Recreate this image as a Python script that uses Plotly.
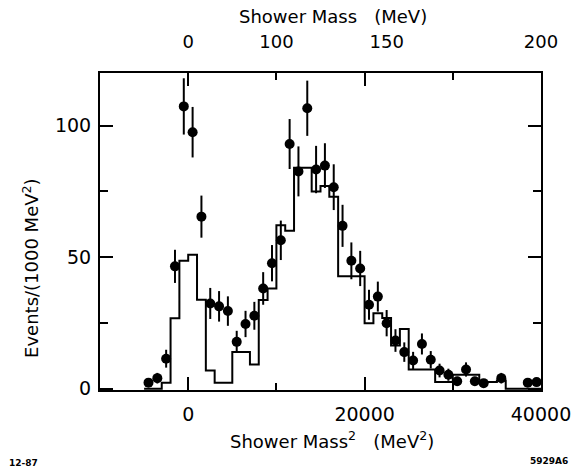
import plotly.graph_objects as go

# Histogram (Monte Carlo) : bin edges and contents
hist_edges = list(range(-5000, 41000, 1000))
hist_vals = [0, 0, 2.3, 26.8, 48.6, 50.9, 33.8, 6.9, 2.3, 2.3,
             13.9, 13.9, 9.2, 33.7, 38.1, 62.1, 60, 84, 84, 75,
             77, 73, 42.7, 42.7, 42.7, 24.9, 28.7, 26.9, 16.4, 22.7,
             7.3, 7.3, 7.3, 2.5, 2.5, 5.3, 5.3, 5.3, 2.5, 2.5,
             3.1, 0, 0, 0, 0]

# Data points
pt_x = [-4500, -3500, -2500, -1500, -500, 500, 1500, 2500, 3500, 4500,
        5500, 6500, 7500, 8500, 9500, 10500, 11500, 12500, 13500, 14500,
        15500, 16500, 17500, 18500, 19500, 20500, 21500, 22500, 23500, 24500,
        25500, 26500, 27500, 28500, 29500, 30500, 31500, 32500, 33500, 35500,
        38500, 39500]
pt_y = [2.3, 4.0, 11.4, 46.5, 107.3, 97.5, 65.4, 32.4, 31.3, 29.5,
        17.8, 24.6, 27.7, 38.1, 47.7, 56.4, 93.0, 82.6, 106.6, 83.3,
        84.8, 76.6, 61.9, 48.6, 45.7, 31.9, 35.0, 24.9, 18.3, 13.9,
        10.7, 17.0, 11.0, 6.9, 5.3, 2.8, 7.3, 2.8, 2.1, 4.0,
        2.3, 2.5]
pt_err = [1.5, 2.0, 3.4, 6.3, 10.7, 9.6, 8.0, 5.9, 5.8, 5.6,
          4.2, 5.0, 5.3, 6.2, 6.9, 7.5, 9.5, 9.5, 10.5, 9.0,
          8.5, 8.7, 8.0, 7.0, 6.7, 5.7, 5.7, 5.0, 4.3, 3.7,
          3.3, 4.0, 3.3, 2.6, 2.3, 1.7, 2.7, 1.7, 1.5, 2.0,
          1.5, 1.6]

top_tick_vals = [0, 10000, 22500, 40000]
top_tick_text = ["0", "100", "150", "200"]

FONT = "DejaVu Sans"

fig = go.Figure()
fig.add_trace(go.Scatter(
    x=hist_edges, y=hist_vals + [hist_vals[-1]],
    mode="lines", line=dict(shape="hv", color="black", width=2),
    showlegend=False, hoverinfo="skip"))
fig.add_trace(go.Scatter(
    x=pt_x, y=pt_y, mode="markers",
    marker=dict(size=10, color="black"),
    error_y=dict(type="data", array=pt_err, color="black", thickness=2, width=0),
    showlegend=False))
# invisible trace to host the top axis
fig.add_trace(go.Scatter(x=[0], y=[0], xaxis="x2", mode="markers",
                         marker=dict(opacity=0), showlegend=False, hoverinfo="skip"))

L, R, T, B = 100, 547, 73, 390
W, H = 583, 470

fig.update_layout(
    width=W, height=H,
    margin=dict(l=L, r=W - R, t=T, b=H - B),
    plot_bgcolor="white", paper_bgcolor="white",
    font=dict(family=FONT, color="black", size=18),
    xaxis=dict(range=[-10000, 40000.1], tick0=0, dtick=20000, tickformat="d",
               ticks="inside", ticklen=13, tickwidth=1.5, tickcolor="black",
               minor=dict(dtick=10000, ticks="inside", ticklen=7, tickwidth=1.5, tickcolor="black"),
               showline=True, linecolor="black", linewidth=2, mirror="ticks",
               showgrid=False, zeroline=False, ticklabelstandoff=6,
               tickfont=dict(size=19)),
    xaxis2=dict(range=[-10000, 40000.1], overlaying="x", side="top",
                tickmode="array", tickvals=top_tick_vals, ticktext=top_tick_text,
                ticks="", showline=False, showgrid=False, zeroline=False,
                tickfont=dict(size=18), ticklabelstandoff=20),
    yaxis=dict(range=[-0.5, 120], tick0=0, dtick=50,
               ticks="inside", ticklen=13, tickwidth=1.5, tickcolor="black",
               minor=dict(dtick=25, ticks="inside", ticklen=8, tickwidth=1.5, tickcolor="black"),
               showline=True, linecolor="black", linewidth=2, mirror="ticks",
               showgrid=False, zeroline=False, ticklabelstandoff=3,
               tickfont=dict(size=19)),
)

def px(xp):
    return (xp - L) / (R - L)

def py(yp):
    return (B - yp) / (B - T)

nb = "\u00a0"
fig.add_annotation(text="Shower Mass" + nb * 3 + "(MeV)", x=px(336), y=py(16),
                   xref="paper", yref="paper", showarrow=False,
                   font=dict(size=18), xanchor="center", yanchor="middle")
fig.add_annotation(text="Shower Mass<sup>2</sup>" + nb * 3 + "(MeV<sup>2</sup>)",
                   x=px(335), y=py(440), xref="paper", yref="paper", showarrow=False,
                   font=dict(size=18), xanchor="center", yanchor="middle")
fig.add_annotation(text="Events/(1000 MeV<sup>2</sup>)", x=px(30), y=py(268),
                   xref="paper", yref="paper", showarrow=False, textangle=-90,
                   font=dict(size=18), xanchor="center", yanchor="middle")
fig.add_annotation(text="<b>12-87</b>", x=px(22), y=py(463), xref="paper", yref="paper",
                   showarrow=False, font=dict(size=9), xanchor="center", yanchor="middle")
fig.add_annotation(text="<b>5929A6</b>", x=px(555), y=py(461), xref="paper", yref="paper",
                   showarrow=False, font=dict(size=9), xanchor="center", yanchor="middle")

fig.write_html("out.html")
